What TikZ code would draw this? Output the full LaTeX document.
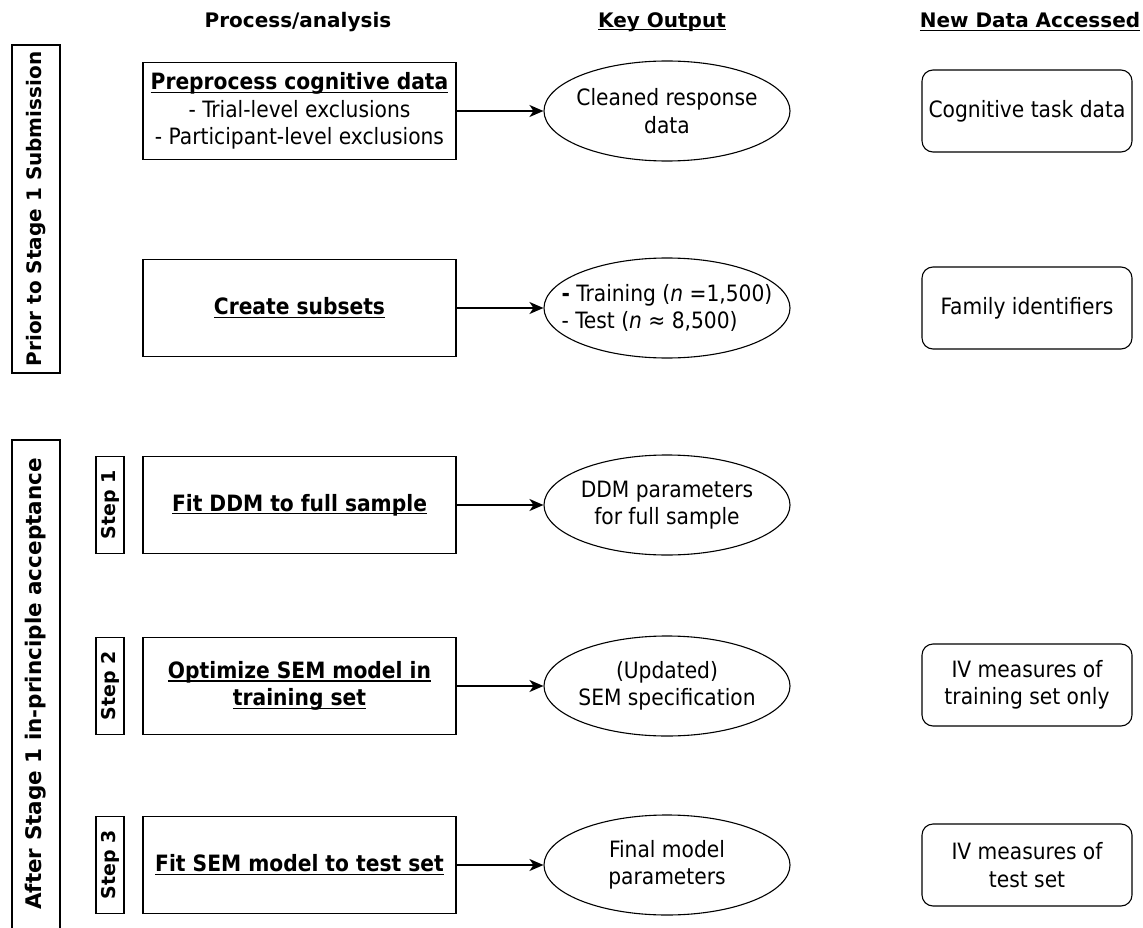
\documentclass[tikz,border=0pt]{standalone}
\usepackage{fontspec}
\setmainfont{DejaVu Sans Condensed}
\newfontfamily\widefont{DejaVu Sans}
\usetikzlibrary{shapes.geometric,arrows.meta}
\newsavebox\ulbox
\newcommand\myul[1]{\sbox\ulbox{#1}\rlap{\rule[-3.2pt]{\wd\ulbox}{1.3pt}}\usebox\ulbox}
\begin{document}
\begin{tikzpicture}[x=1pt,y=-1pt,
  font=\fontsize{22.5}{27.5}\selectfont,
  hdr/.style={font=\widefont\bfseries\fontsize{20}{24}\selectfont},
  proc/.style={draw, line width=1.3pt, minimum width=313pt, minimum height=97pt, align=center, inner sep=0pt},
  outp/.style={draw, ellipse, line width=1.1pt, minimum width=246pt, minimum height=100pt, inner sep=0pt},
  outtext/.style={align=center, inner sep=0pt},
  datab/.style={draw, rounded corners=11pt, line width=1.1pt, minimum width=210pt, minimum height=82pt, align=center, inner sep=0pt},
  stage/.style={draw, line width=1.3pt, minimum height=48pt, inner sep=0pt, rotate=90},
  stagetext/.style={rotate=90, font=\widefont\bfseries\fontsize{20}{24}\selectfont},
  stepbox/.style={draw, line width=1.3pt, minimum width=97pt, minimum height=28pt, inner sep=0pt, rotate=90, font=\widefont\bfseries\fontsize{19}{22}\selectfont},
  arr/.style={-{Stealth[length=14pt,width=12pt,inset=4pt]}, line width=1.4pt}]
\useasboundingbox (0,0) rectangle (1143,928);

% headers
\node[hdr] (h1) at (298,22) {Process/analysis};
\node[hdr] (h2) at (662,22) {\myul{Key Output}};
\node[hdr] (h3) at (1030,22) {\myul{New Data Accessed}};

% stage boxes
\node[stage, minimum width=328pt] (prior) at (36,209) {};
\node[stagetext] (priort) at (36,209) {Prior to Stage 1 Submission};
\node[stage, minimum width=500pt] (after) at (36,690) {};
\node[stagetext, font=\widefont\bfseries\fontsize{21.5}{24}\selectfont] (aftert) at (36,684) {After Stage 1 in-principle acceptance};

% step boxes
\node[stepbox] (s1) at (110,505) {Step 1};
\node[stepbox] (s2) at (110,686) {Step 2};
\node[stepbox] (s3) at (110,865) {Step 3};

% process boxes
\node[proc] (p1) at (299.5,111) {\textbf{\myul{Preprocess cognitive data}}\\- Trial-level exclusions\\- Participant-level exclusions};
\node[proc] (p2) at (299.5,308) {\textbf{\myul{Create subsets}}};
\node[proc] (p3) at (299.5,505) {\textbf{\myul{Fit DDM to full sample}}};
\node[proc] (p4) at (299.5,686) {\textbf{\myul{Optimize SEM model in}}\\\textbf{\myul{training set}}};
\node[proc] (p5) at (299.5,865) {\textbf{\myul{Fit SEM model to test set}}};

% outputs
\node[outp] (o1) at (667,111) {};
\node[outtext] (o1t) at (o1.center) {Cleaned response\\data};
\node[outp] (o2) at (667,308) {};
\node[outtext, align=left] (o2t) at (o2.center) {\textbf{-} Training (\textit{n} =1,500)\\- Test (\textit{n} ≈ 8,500)};
\node[outp] (o3) at (667,505) {};
\node[outtext] (o3t) at (o3.center) {DDM parameters\\for full sample};
\node[outp] (o4) at (667,686) {};
\node[outtext] (o4t) at (o4.center) {(Updated)\\SEM specification};
\node[outp] (o5) at (667,865) {};
\node[outtext] (o5t) at (o5.center) {Final model\\parameters};

% data boxes
\node[datab] (d1) at (1027,111) {Cognitive task data};
\node[datab] (d2) at (1027,308) {Family identifiers};
\node[datab] (d4) at (1027,685) {IV measures of\\training set only};
\node[datab] (d5) at (1027,865) {IV measures of\\test set};

% arrows
\draw[arr] (p1.east) -- (o1.west);
\draw[arr] (p2.east) -- (o2.west);
\draw[arr] (p3.east) -- (o3.west);
\draw[arr] (p4.east) -- (o4.west);
\draw[arr] (p5.east) -- (o5.west);
\end{tikzpicture}
\end{document}
